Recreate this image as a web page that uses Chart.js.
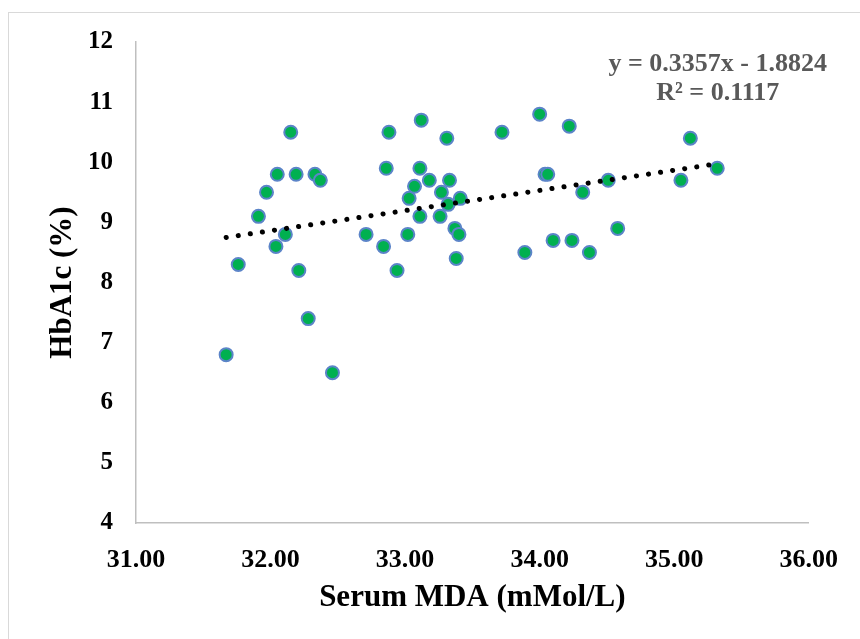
<!DOCTYPE html>
<html>
<head>
<meta charset="utf-8">
<script src="https://cdn.jsdelivr.net/npm/chart.js@4/dist/chart.umd.min.js"></script>
<style>
  html, body { margin: 0; padding: 0; background: #fff; }
  #wrap { position: relative; width: 860px; height: 639px; }
  #frame { position: absolute; left: 8px; top: 12px; right: 0; bottom: 0;
           border-top: 1px solid #d9d9d9; border-left: 1px solid #d9d9d9; pointer-events: none; }
</style>
</head>
<body>
<div id="wrap">
  <canvas id="scatterChart" width="860" height="639"></canvas>
  <div id="frame"></div>
</div>
<script>
// Serum MDA (mMol/L) against HbA1c (%)
const mdaValues = [
  31.67, 31.76, 31.91, 31.97, 32.04, 32.05, 32.11, 32.15, 32.19, 32.21,
  32.28, 32.33, 32.37, 32.46, 32.71, 32.84, 32.86, 32.88, 32.94, 33.02,
  33.03, 33.07, 33.11, 33.11, 33.12, 33.18, 33.26, 33.27, 33.31, 33.32,
  33.33, 33.37, 33.38, 33.40, 33.41, 33.72, 33.89, 34.00, 34.04, 34.06,
  34.10, 34.22, 34.24, 34.32, 34.37, 34.51, 34.58, 35.05, 35.12, 35.32
];
const hba1cValues = [
  6.8, 8.3, 9.1, 9.5, 8.6, 9.8, 8.8, 10.5, 9.8, 8.2,
  7.4, 9.8, 9.7, 6.5, 8.8, 8.6, 9.9, 10.5, 8.2, 8.8,
  9.4, 9.6, 9.1, 9.9, 10.7, 9.7, 9.1, 9.5, 10.4, 9.3,
  9.7, 8.9, 8.4, 8.8, 9.4, 10.5, 8.5, 10.8, 9.8, 9.8,
  8.7, 10.6, 8.7, 9.5, 8.5, 9.7, 8.9, 9.7, 10.4, 9.9
];

// linear trendline as printed on the chart
const trendSlope = 0.3357;
const trendIntercept = -1.8824;
const trendLabels = ['y = 0.3357x - 1.8824', 'R² = 0.1117'];

const xAxisTitle = 'Serum MDA (mMol/L)';
const yAxisTitle = 'HbA1c (%)';

const serif = '"Liberation Serif", "Times New Roman", serif';

const points = mdaValues.map((x, i) => ({ x: x, y: hba1cValues[i] }));
const xMin = Math.min(...mdaValues);
const xMax = Math.max(...mdaValues);
const trendPoints = [
  { x: xMin, y: trendSlope * xMin + trendIntercept },
  { x: xMax, y: trendSlope * xMax + trendIntercept }
];

// draws the equation box in the top right corner
const equationLabel = {
  id: 'equationLabel',
  afterDraw(chart) {
    const { ctx, chartArea } = chart;
    ctx.save();
    ctx.font = 'bold 26px ' + serif;
    ctx.fillStyle = '#595959';
    ctx.textAlign = 'center';
    ctx.textBaseline = 'middle';
    const cx = chartArea.right - 91;
    ctx.fillText(trendLabels[0], cx, chartArea.top + 22);
    ctx.fillText(trendLabels[1], cx, chartArea.top + 51);
    ctx.restore();
  }
};

const ctx = document.getElementById('scatterChart').getContext('2d');

new Chart(ctx, {
  type: 'scatter',
  data: {
    datasets: [
      {
        label: 'HbA1c',
        data: points,
        backgroundColor: '#00b050',
        borderColor: '#5b84c8',
        borderWidth: 2,
        pointRadius: 6.5,
        pointHoverRadius: 6.5,
        order: 2
      },
      {
        label: 'Linear',
        type: 'line',
        data: trendPoints,
        borderColor: '#000000',
        borderWidth: 5,
        borderDash: [0.1, 12.1],
        borderCapStyle: 'round',
        pointRadius: 0,
        fill: false,
        order: 1
      }
    ]
  },
  options: {
    responsive: false,
    animation: false,
    layout: {
      padding: { top: 42, right: 48, left: 0, bottom: 0 }
    },
    plugins: {
      legend: { display: false },
      tooltip: { enabled: false }
    },
    scales: {
      x: {
        type: 'linear',
        min: 31,
        max: 36,
        afterFit(scale) { scale.height = 116; },
        grid: { display: false, drawTicks: false },
        border: { display: true, color: '#bfbfbf', width: 1.5 },
        ticks: {
          stepSize: 1,
          padding: 22,
          color: '#000',
          font: { family: serif, size: 26, weight: 'bold' },
          callback: v => Number(v).toFixed(2)
        },
        title: {
          display: true,
          text: xAxisTitle,
          color: '#000',
          font: { family: serif, size: 31, weight: 'bold', lineHeight: 1 },
          padding: { top: 26, bottom: 26 }
        }
      },
      y: {
        min: 4,
        max: 12,
        afterFit(scale) { scale.width = 136; },
        grid: { display: false, drawTicks: false },
        border: { display: true, color: '#bfbfbf', width: 1.5 },
        ticks: {
          stepSize: 1,
          padding: 23,
          color: '#000',
          font: { family: serif, size: 25, weight: 'bold' }
        },
        title: {
          display: true,
          text: yAxisTitle,
          color: '#000',
          font: { family: serif, size: 31, weight: 'bold', lineHeight: 1 },
          padding: { top: 47, bottom: 47 }
        }
      }
    }
  },
  plugins: [equationLabel]
});
</script>
</body>
</html>
